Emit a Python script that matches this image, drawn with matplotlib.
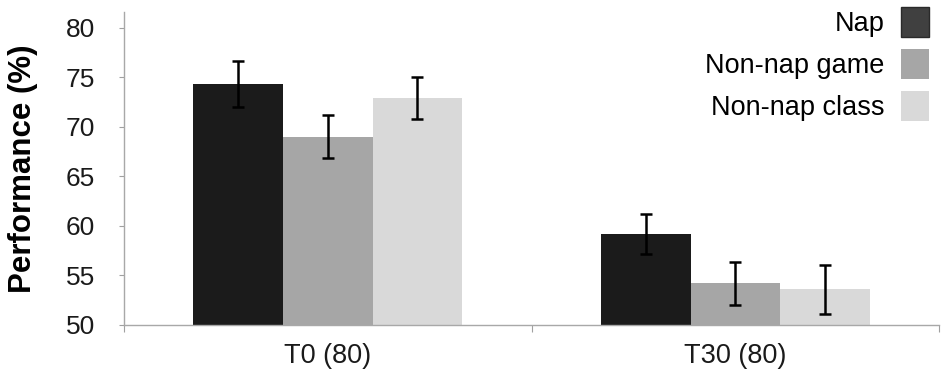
import numpy as np
import matplotlib.pyplot as plt
from matplotlib.patches import Patch

plt.rcParams['font.family'] = ['Liberation Sans', 'DejaVu Sans']

# Datos
categorias = ['T0 (80)', 'T30 (80)']
grupos = ['Nap', 'Non-nap game', 'Non-nap class']
medias = {
    'Nap': [74.3, 59.2],
    'Non-nap game': [69.0, 54.2],
    'Non-nap class': [72.9, 53.6],
}
errores = {
    'Nap': [2.3, 2.0],
    'Non-nap game': [2.2, 2.2],
    'Non-nap class': [2.1, 2.5],
}
colores_barra = ['#1b1b1b', '#a6a6a6', '#d9d9d9']
colores_leyenda = ['#404040', '#a6a6a6', '#d9d9d9']

fig = plt.figure(figsize=(9.45, 3.81), dpi=100)
ax = fig.add_axes([0.131, 0.147, 0.863, 0.822])

x = np.arange(len(categorias))
ancho = 0.22
for i, g in enumerate(grupos):
    ax.bar(x + (i - 1) * ancho, medias[g], ancho, bottom=0,
           color=colores_barra[i], edgecolor='none', zorder=2)
    ax.errorbar(x + (i - 1) * ancho, medias[g], yerr=errores[g], fmt='none',
                ecolor='black', elinewidth=1.8, capsize=4.5, capthick=1.8, zorder=3)

ax.set_xlim(-0.5, 1.5)
ax.set_ylim(50, 81.6)
ax.set_yticks([50, 55, 60, 65, 70, 75, 80])
ax.tick_params(axis='y', labelsize=19, length=3.5, color='#a0a0a0', pad=17,
               labelcolor='#1a1a1a')

# ticks mayores entre categorias, etiquetas en menores
ax.set_xticks([-0.5, 0.5, 1.5])
ax.set_xticklabels([])
ax.set_xticks(x, minor=True)
ax.set_xticklabels(categorias, minor=True)
ax.tick_params(axis='x', which='major', length=5, color='#a0a0a0')
ax.tick_params(axis='x', which='minor', length=0, labelsize=19.5, pad=13,
               labelcolor='#1a1a1a')

for s in ['top', 'right']:
    ax.spines[s].set_visible(False)
for s in ['left', 'bottom']:
    ax.spines[s].set_color('#a8a8a8')
    ax.spines[s].set_linewidth(1.0)

ax.set_ylabel('Performance (%)', fontsize=22.5, fontweight='bold', labelpad=20)

handles = [Patch(facecolor=colores_leyenda[i], edgecolor='#2a2a2a' if i == 0 else 'none')
           for i in range(len(grupos))]
fig.legend(handles, grupos, loc='upper right', bbox_to_anchor=(929 / 945, 1 - 7 / 381),
           frameon=False, fontsize=19.5, markerfirst=False, borderpad=0, borderaxespad=0,
           handlelength=1.05, handleheight=1.3, handletextpad=0.6, labelspacing=0.45)

fig.savefig('out.png', dpi=100)
